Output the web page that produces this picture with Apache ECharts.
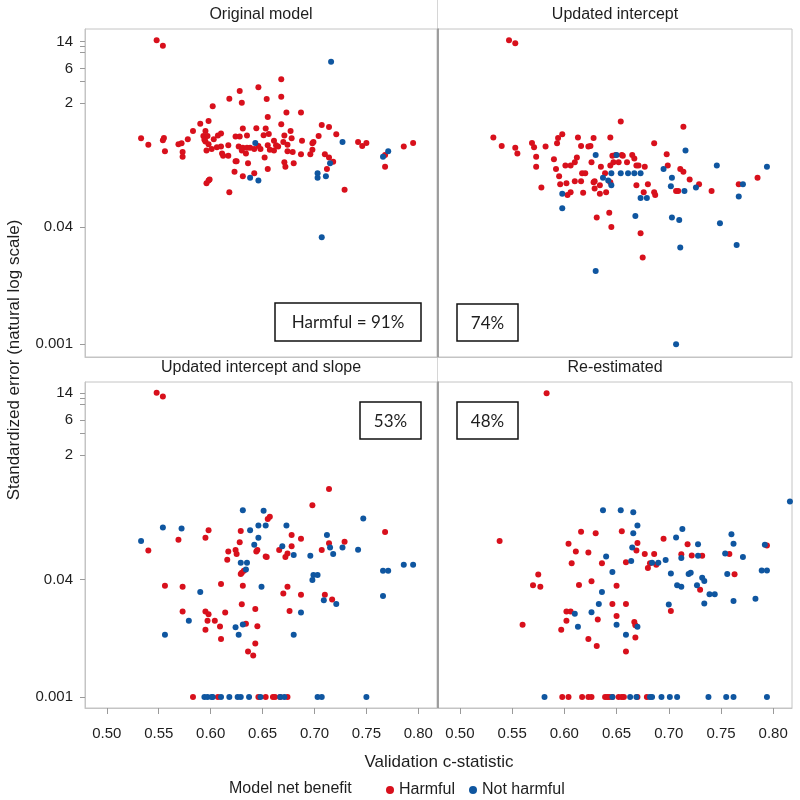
<!DOCTYPE html>
<html>
<head>
<meta charset="utf-8">
<script src="https://cdn.jsdelivr.net/npm/echarts@6/dist/echarts.min.js"></script>
<style>
  html, body { margin: 0; background: #fff; }
  #app { width: 800px; height: 800px; }
</style>
</head>
<body>
<div id="app"></div>
<script>
// validation c-statistic vs standardized error, [c, error]
const origHarmful = [
  [0.548,14.7],[0.554,12.3],[0.668,4.26],[0.628,2.95],[0.646,3.31],[0.668,2.46],[0.618,2.31],[0.654,2.29],[0.630,2.04],[0.602,1.82],
  [0.687,1.50],[0.673,1.49],[0.655,1.30],[0.598,1.14],[0.590,1.05],[0.707,1.01],[0.668,1.03],[0.714,0.945],[0.583,0.83],[0.595,0.83],
  [0.631,0.90],[0.644,0.91],[0.653,0.90],[0.677,0.83],[0.721,0.75],[0.533,0.66],[0.555,0.67],[0.554,0.62],[0.578,0.64],[0.593,0.71],
  [0.597,0.71],[0.607,0.72],[0.610,0.77],[0.624,0.70],[0.628,0.70],[0.635,0.72],[0.651,0.73],[0.656,0.76],[0.671,0.72],[0.678,0.66],
  [0.688,0.61],[0.699,0.59],[0.704,0.71],[0.742,0.59],[0.746,0.52],[0.750,0.57],[0.786,0.51],[0.795,0.57],[0.540,0.54],[0.569,0.55],
  [0.572,0.565],[0.595,0.60],[0.598,0.55],[0.603,0.64],[0.606,0.50],[0.617,0.53],[0.627,0.51],[0.631,0.49],[0.635,0.49],[0.638,0.49],
  [0.646,0.52],[0.648,0.47],[0.655,0.53],[0.661,0.61],[0.663,0.53],[0.665,0.51],[0.670,0.59],[0.674,0.54],[0.698,0.565],[0.556,0.44],
  [0.573,0.43],[0.596,0.45],[0.601,0.47],[0.610,0.51],[0.611,0.41],[0.612,0.38],[0.617,0.38],[0.624,0.32],[0.630,0.45],[0.634,0.41],
  [0.652,0.36],[0.657,0.46],[0.661,0.45],[0.674,0.44],[0.679,0.43],[0.687,0.40],[0.696,0.40],[0.698,0.46],[0.710,0.40],[0.714,0.36],
  [0.573,0.37],[0.768,0.39],[0.636,0.30],[0.625,0.32],[0.671,0.31],[0.672,0.27],[0.680,0.30],[0.718,0.315],[0.768,0.27],[0.655,0.25],
  [0.712,0.25],[0.623,0.23],[0.631,0.20],[0.642,0.22],[0.596,0.16],[0.598,0.175],[0.599,0.18],[0.618,0.12],[0.729,0.13],[0.594,0.63],
  [0.642,0.47]
];
const origNotHarmful = [
  [0.716,7.4],[0.643,0.57],[0.727,0.59],[0.766,0.37],[0.771,0.44],[0.715,0.30],[0.703,0.22],[0.638,0.19],[0.646,0.175],[0.703,0.19],
  [0.711,0.20],[0.707,0.029]
];

const interHarmful = [
  [0.547,14.6],[0.553,13.3],[0.654,1.12],[0.714,0.95],[0.532,0.68],[0.540,0.52],[0.553,0.49],[0.555,0.41],[0.569,0.57],[0.571,0.50],
  [0.573,0.37],[0.573,0.27],[0.578,0.14],[0.582,0.51],[0.590,0.34],[0.593,0.565],[0.594,0.67],[0.598,0.75],[0.592,0.25],[0.595,0.20],
  [0.596,0.155],[0.601,0.28],[0.602,0.16],[0.603,0.11],[0.606,0.12],[0.606,0.28],[0.610,0.31],[0.612,0.36],[0.613,0.68],[0.616,0.52],
  [0.617,0.22],[0.618,0.118],[0.616,0.17],[0.610,0.17],[0.620,0.22],[0.623,0.51],[0.625,0.52],[0.626,0.31],[0.628,0.67],[0.628,0.165],
  [0.629,0.135],[0.629,0.17],[0.631,0.054],[0.634,0.115],[0.634,0.15],[0.635,0.27],[0.640,0.12],[0.639,0.22],[0.643,0.063],[0.644,0.68],
  [0.644,0.165],[0.644,0.28],[0.645,0.040],[0.646,0.38],[0.647,0.31],[0.649,0.39],[0.652,0.31],[0.655,0.39],[0.656,0.38],[0.660,0.31],
  [0.665,0.39],[0.667,0.35],[0.669,0.28],[0.671,0.28],[0.669,0.15],[0.673,0.033],[0.675,0.0153],[0.676,0.12],[0.677,0.27],[0.680,0.155],
  [0.686,0.565],[0.686,0.12],[0.687,0.11],[0.698,0.40],[0.699,0.28],[0.707,0.125],[0.709,0.125],[0.711,0.25],[0.714,0.23],[0.720,0.18],
  [0.729,0.155],[0.741,0.125],[0.767,0.155],[0.785,0.19]
];
const interNotHarmful = [
  [0.630,0.39],[0.637,0.19],[0.642,0.175],[0.645,0.22],[0.645,0.15],[0.650,0.39],[0.654,0.22],[0.661,0.22],[0.667,0.22],[0.673,0.22],
  [0.673,0.10],[0.679,0.10],[0.668,0.057],[0.695,0.25],[0.703,0.19],[0.702,0.145],[0.703,0.054],[0.710,0.050],[0.711,0.021],[0.716,0.45],
  [0.715,0.125],[0.726,0.14],[0.746,0.28],[0.749,0.045],[0.765,0.0228],[0.767,0.105],[0.771,0.155],[0.794,0.27],[0.598,0.115],[0.598,0.0725],
  [0.630,0.0100],[0.707,0.00099]
];

const slopeHarmful = [
  [0.548,14.3],[0.554,12.7],[0.714,0.69],[0.698,0.415],[0.657,0.29],[0.655,0.27],[0.768,0.18],[0.598,0.19],[0.595,0.15],[0.569,0.14],
  [0.629,0.185],[0.628,0.13],[0.540,0.10],[0.617,0.097],[0.616,0.075],[0.624,0.102],[0.625,0.09],[0.644,0.097],[0.645,0.102],[0.653,0.083],
  [0.654,0.082],[0.666,0.102],[0.672,0.082],[0.674,0.091],[0.678,0.163],[0.678,0.115],[0.687,0.145],[0.707,0.102],[0.714,0.126],[0.729,0.132],
  [0.629,0.048],[0.630,0.05],[0.632,0.053],[0.631,0.033],[0.610,0.035],[0.556,0.033],[0.573,0.032],[0.670,0.026],[0.674,0.032],[0.687,0.025],
  [0.710,0.025],[0.717,0.0215],[0.573,0.0147],[0.595,0.0147],[0.598,0.0135],[0.597,0.011],[0.604,0.011],[0.614,0.0143],[0.630,0.0185],[0.643,0.016],
  [0.609,0.0092],[0.595,0.0083],[0.610,0.0062],[0.634,0.0100],[0.645,0.0093],[0.676,0.015],[0.643,0.0054],[0.636,0.0042],[0.641,0.0037],
  [0.583,0.001],[0.607,0.001],[0.646,0.001],[0.653,0.001],[0.660,0.001],[0.662,0.001],[0.667,0.001],[0.674,0.001]
];
const slopeNotHarmful = [
  [0.533,0.135],[0.554,0.206],[0.572,0.20],[0.631,0.355],[0.651,0.35],[0.646,0.22],[0.653,0.22],[0.673,0.22],[0.638,0.19],[0.646,0.15],
  [0.642,0.12],[0.669,0.115],[0.680,0.087],[0.629,0.068],[0.635,0.068],[0.634,0.055],[0.696,0.085],[0.712,0.163],[0.715,0.11],[0.718,0.09],
  [0.727,0.11],[0.742,0.103],[0.747,0.273],[0.766,0.053],[0.771,0.053],[0.786,0.064],[0.795,0.064],[0.698,0.0397],[0.699,0.0465],[0.703,0.0465],
  [0.649,0.0322],[0.590,0.0273],[0.709,0.021],[0.721,0.0187],[0.766,0.024],[0.579,0.011],[0.687,0.0143],[0.624,0.0090],[0.627,0.0071],[0.631,0.0098],
  [0.680,0.0071],[0.556,0.0071],
  [0.594,0.001],[0.597,0.001],[0.601,0.001],[0.602,0.001],[0.610,0.001],[0.618,0.001],[0.626,0.001],[0.629,0.001],[0.637,0.001],[0.648,0.001],
  [0.667,0.001],[0.671,0.001],[0.703,0.001],[0.707,0.001],[0.750,0.001]
];

const reestHarmful = [
  [0.583,14.0],[0.538,0.135],[0.560,0.0097],[0.570,0.0335],[0.575,0.047],[0.577,0.032],[0.597,0.0083],[0.602,0.0147],[0.606,0.0147],[0.602,0.011],
  [0.604,0.124],[0.607,0.067],[0.611,0.0975],[0.614,0.034],[0.616,0.181],[0.623,0.094],[0.623,0.0062],[0.626,0.038],[0.630,0.172],[0.631,0.005],
  [0.632,0.0115],[0.636,0.067],[0.646,0.0186],[0.650,0.033],[0.650,0.0128],[0.655,0.183],[0.659,0.0695],[0.659,0.0186],[0.659,0.0042],[0.667,0.0106],
  [0.668,0.0096],[0.668,0.0065],[0.669,0.100],[0.670,0.127],[0.677,0.090],[0.680,0.0577],[0.682,0.067],[0.686,0.090],[0.688,0.064],[0.695,0.145],
  [0.702,0.015],[0.712,0.089],[0.718,0.122],[0.722,0.086],[0.730,0.0292],[0.732,0.085],[0.758,0.090],[0.763,0.0475],[0.794,0.117],
  [0.598,0.001],[0.604,0.001],[0.617,0.001],[0.623,0.001],[0.626,0.001],[0.639,0.001],[0.641,0.001],[0.643,0.001],[0.646,0.001],[0.652,0.001],
  [0.655,0.001],[0.657,0.001],[0.670,0.001],[0.679,0.001]
];
const reestNotHarmful = [
  [0.816,0.466],[0.637,0.354],[0.654,0.354],[0.666,0.333],[0.670,0.22],[0.666,0.172],[0.665,0.11],[0.664,0.072],[0.640,0.083],[0.646,0.051],
  [0.636,0.0273],[0.633,0.0186],[0.626,0.0144],[0.610,0.0137],[0.613,0.0091],[0.650,0.0097],[0.659,0.0071],[0.670,0.0091],[0.684,0.068],[0.690,0.068],
  [0.697,0.0745],[0.702,0.0485],[0.700,0.0183],[0.707,0.151],[0.708,0.0335],[0.712,0.032],[0.713,0.197],[0.712,0.079],[0.719,0.048],[0.721,0.050],
  [0.727,0.0335],[0.728,0.122],[0.728,0.085],[0.732,0.0425],[0.734,0.0385],[0.734,0.019],[0.739,0.0253],[0.744,0.0253],[0.754,0.0915],[0.756,0.048],
  [0.760,0.167],[0.762,0.124],[0.762,0.0205],[0.771,0.082],[0.783,0.022],[0.789,0.0533],[0.794,0.0533],[0.792,0.12],
  [0.581,0.001],[0.646,0.001],[0.663,0.001],[0.669,0.001],[0.682,0.001],[0.684,0.001],[0.693,0.001],[0.701,0.001],[0.708,0.001],[0.738,0.001],
  [0.755,0.001],[0.762,0.001],[0.794,0.001]
];

const panelTitles = ['Original model', 'Updated intercept', 'Updated intercept and slope', 'Re-estimated'];
const boxLabels = ['Harmful = 91%', '74%', '53%', '48%'];
const xTickValues = [0.50, 0.55, 0.60, 0.65, 0.70, 0.75, 0.80];
const yLabelValues = [0.001, 0.04, 2, 6, 14];
const yTickValues = [0.001, 0.04, 2, 4, 6, 10, 12, 14];

const FONT = '"Liberation Sans", Arial, sans-serif';
const RED = '#d8101c';
const BLUE = '#0f56a0';
const TEXT = '#1e1e1e';

const panelData = [
  [origHarmful, origNotHarmful],
  [interHarmful, interNotHarmful],
  [slopeHarmful, slopeNotHarmful],
  [reestHarmful, reestNotHarmful]
];

const grids = [
  { left: 85, top: 29, width: 352, height: 328 },
  { left: 438, top: 29, width: 354, height: 328 },
  { left: 85, top: 382, width: 352, height: 326 },
  { left: 438, top: 382, width: 354, height: 326 }
];
// y extents differ slightly between the two rows
const yRange = [[0.00066, 20.9], [0.00071, 20.0]];

const boxes = [
  { x: 275, y: 303, w: 146, h: 38 },
  { x: 457, y: 304, w: 61, h: 37 },
  { x: 360, y: 402, w: 61, h: 37 },
  { x: 457, y: 402, w: 61, h: 37 }
];

const chart = echarts.init(document.getElementById('app'));

const xAxes = grids.map((g, i) => {
  const bottom = i >= 2;
  return {
    gridIndex: i, type: 'value', min: 0.479, max: 0.818,
    axisLine: { show: true, lineStyle: { color: '#c4c4c4' } },
    splitLine: { show: false },
    axisTick: { show: bottom, customValues: xTickValues, length: 6, lineStyle: { color: '#9a9a9a' } },
    axisLabel: {
      show: bottom, customValues: xTickValues, margin: 18,
      fontFamily: FONT, fontSize: 15, color: TEXT,
      formatter: v => v.toFixed(2)
    }
  };
});

const yAxes = grids.map((g, i) => {
  const left = i % 2 === 0;
  const r = yRange[i < 2 ? 0 : 1];
  return {
    gridIndex: i, type: 'log', logBase: Math.E, min: r[0], max: r[1],
    axisLine: { show: true, lineStyle: { color: left ? '#c4c4c4' : '#8a8a8a', width: left ? 1 : 1.5 } },
    splitLine: { show: false },
    minorTick: { show: false },
    axisTick: { show: left, customValues: yTickValues, length: 5, lineStyle: { color: '#9a9a9a' } },
    axisLabel: {
      show: left, customValues: yLabelValues, margin: 12,
      fontFamily: FONT, fontSize: 15, color: TEXT,
      formatter: v => String(+(+v).toPrecision(3))
    }
  };
});

const series = [];
panelData.forEach((pair, i) => {
  series.push({
    name: 'Harmful', type: 'scatter', xAxisIndex: i, yAxisIndex: i,
    data: pair[0], symbolSize: 6, itemStyle: { color: RED, opacity: 1 }
  });
  series.push({
    name: 'Not harmful', type: 'scatter', xAxisIndex: i, yAxisIndex: i,
    data: pair[1], symbolSize: 6, itemStyle: { color: BLUE, opacity: 1 }
  });
});

const graphics = [];
grids.forEach((g, i) => {
  graphics.push({
    type: 'text', x: g.left + g.width / 2, y: g.top - 14,
    style: { text: panelTitles[i], font: '16px ' + FONT, fill: TEXT, textAlign: 'center', textVerticalAlign: 'middle' }
  });
  const b = boxes[i];
  graphics.push({
    type: 'rect', shape: { x: b.x, y: b.y, width: b.w, height: b.h },
    style: { fill: '#fff', stroke: '#111', lineWidth: 1.5 }, z: 10
  });
  graphics.push({
    type: 'text', x: b.x + b.w / 2, y: b.y + b.h / 2 + 1, z: 11,
    style: { text: boxLabels[i], font: '17px Lato, "Open Sans", sans-serif', fill: TEXT, textAlign: 'center', textVerticalAlign: 'middle' }
  });
});
// light dividers between header cells
graphics.push({ type: 'line', shape: { x1: 437.5, y1: 0, x2: 437.5, y2: 29 }, style: { stroke: '#d6d6d6', lineWidth: 1 } });
graphics.push({ type: 'line', shape: { x1: 437.5, y1: 357, x2: 437.5, y2: 382 }, style: { stroke: '#d6d6d6', lineWidth: 1 } });
// axis titles and legend caption
graphics.push({
  type: 'text', x: 14, y: 360, rotation: Math.PI / 2,
  style: { text: 'Standardized error (natural log scale)', font: '17px ' + FONT, fill: TEXT, textAlign: 'center', textVerticalAlign: 'middle' }
});
graphics.push({
  type: 'text', x: 439, y: 762,
  style: { text: 'Validation c-statistic', font: '17px ' + FONT, fill: TEXT, textAlign: 'center', textVerticalAlign: 'middle' }
});
graphics.push({
  type: 'text', x: 229, y: 789,
  style: { text: 'Model net benefit', font: '16px ' + FONT, fill: TEXT, textAlign: 'left', textVerticalAlign: 'middle' }
});

chart.setOption({
  animation: false,
  backgroundColor: '#fff',
  grid: grids.map(g => Object.assign({ show: true, borderColor: '#c4c4c4', borderWidth: 1, backgroundColor: 'transparent' }, g)),
  xAxis: xAxes,
  yAxis: yAxes,
  legend: {
    data: ['Harmful', 'Not harmful'],
    left: 381, top: 777,
    icon: 'circle', itemWidth: 8, itemHeight: 8, itemGap: 14,
    textStyle: { fontFamily: FONT, fontSize: 16, color: TEXT }
  },
  graphic: graphics,
  series: series
});
</script>
</body>
</html>
